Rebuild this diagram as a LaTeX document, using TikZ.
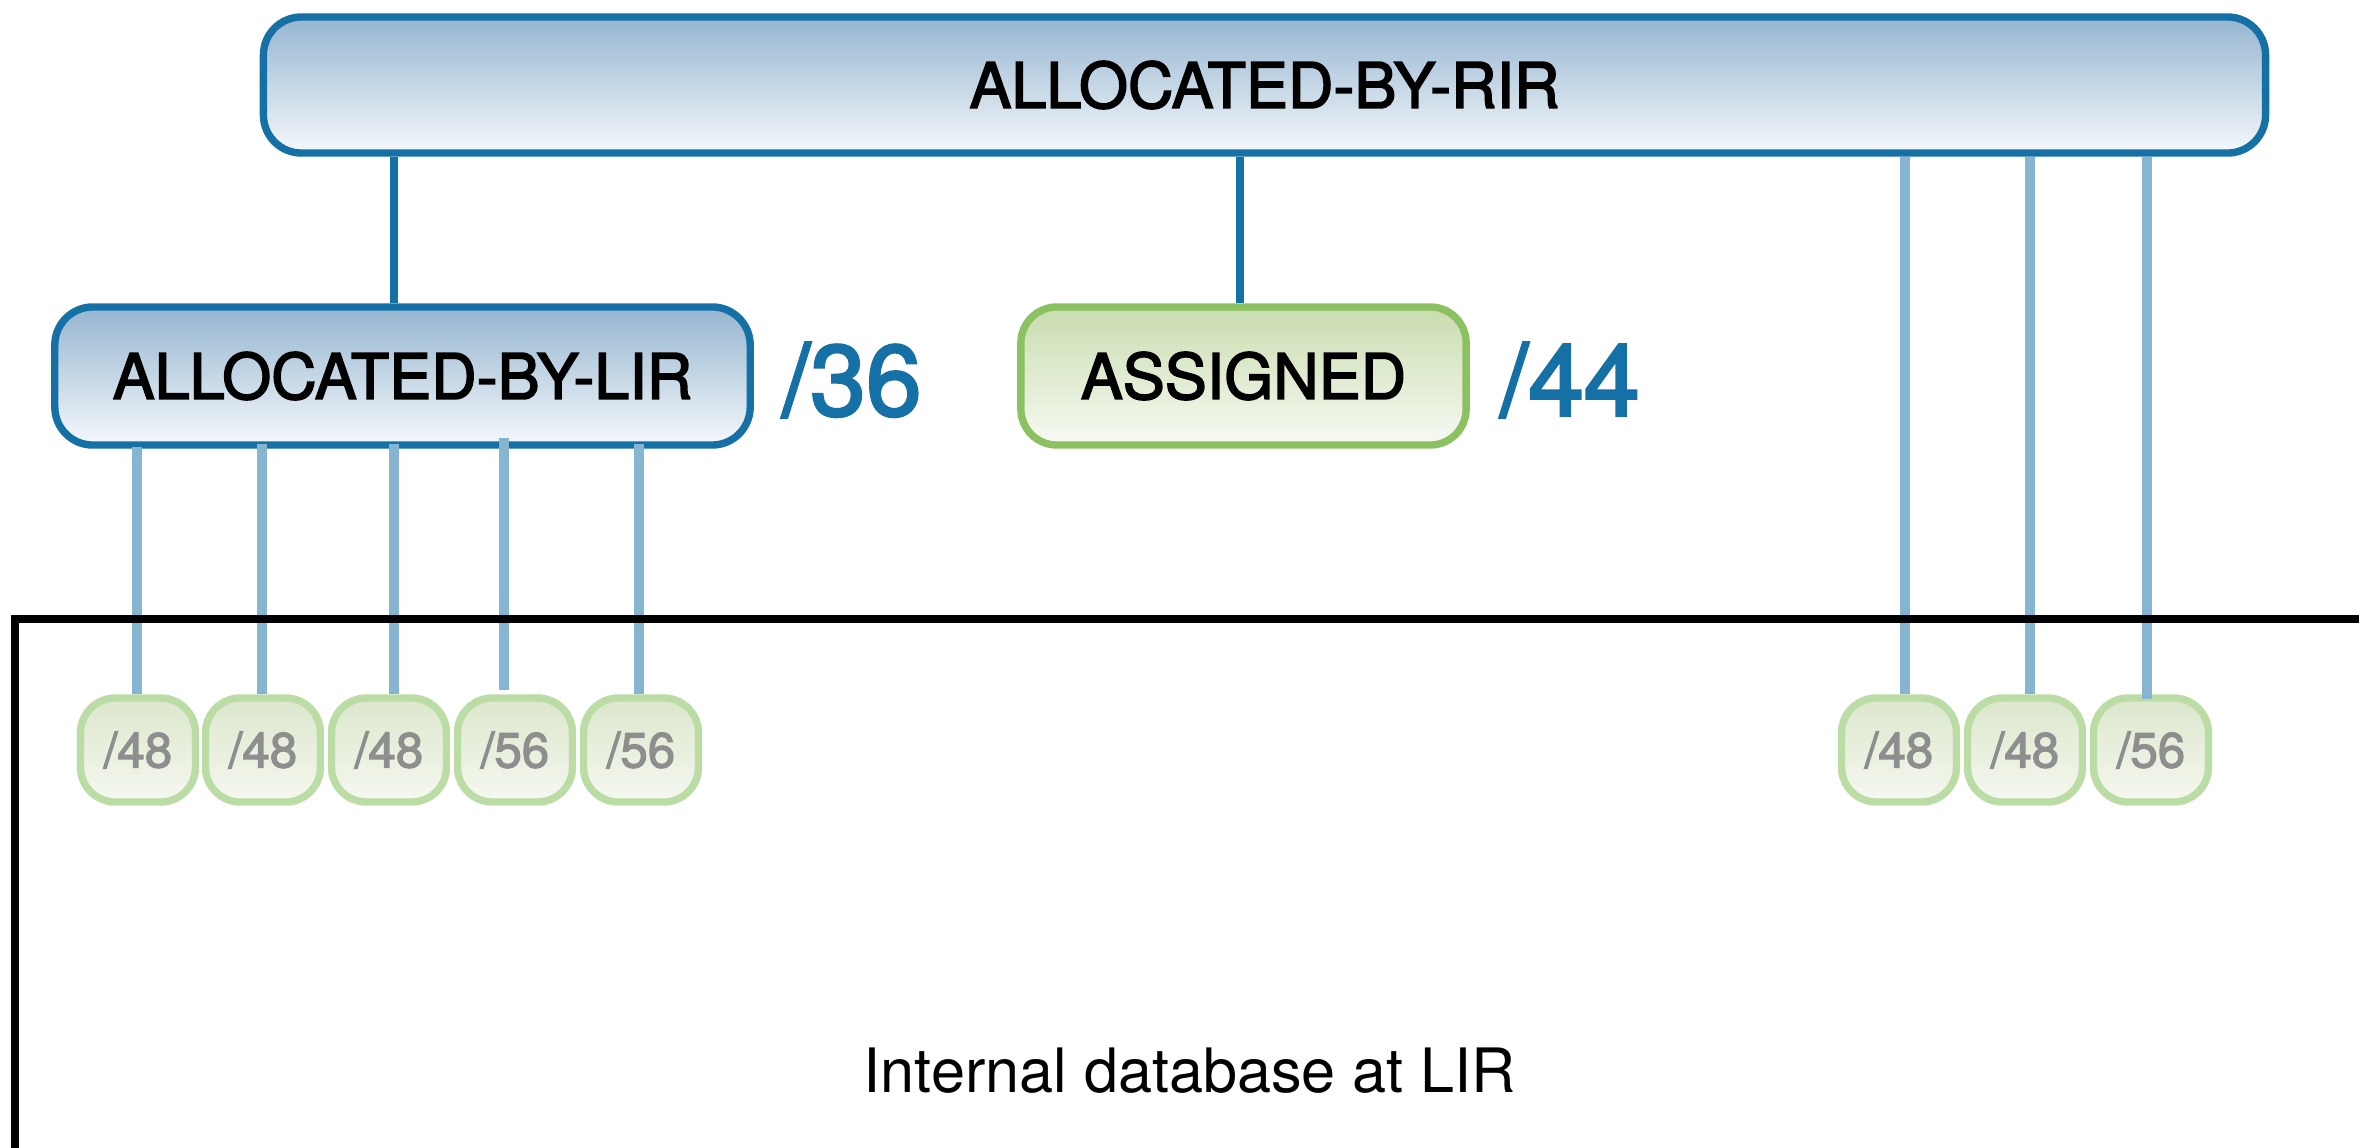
\documentclass[tikz,border=0pt]{standalone}
\usepackage{fontspec}
\setmainfont{TeX Gyre Heros}
\newfontfamily\medfont[FakeBold=2.5]{TeX Gyre Heros}
\definecolor{dblue}{HTML}{1570A6}
\definecolor{lblue}{HTML}{86B5D2}
\definecolor{btop}{HTML}{95B5D0}
\definecolor{bbot}{HTML}{F5F8FB}
\definecolor{gborder}{HTML}{8BC160}
\definecolor{gtop}{HTML}{C9DCAF}
\definecolor{gbot}{HTML}{F7FAF3}
\definecolor{sborder}{HTML}{BBDDA5}
\definecolor{stop}{HTML}{DCE7CC}
\definecolor{sbot}{HTML}{F5F8F0}
\definecolor{stext}{HTML}{8E8E8E}
\tikzset{
  bluebox/.style={draw=dblue, line width=2.1pt, rounded corners=0.38cm, top color=btop, bottom color=bbot, inner sep=0pt, font=\medfont\fontsize{17.9}{20}\selectfont},
  greenbox/.style={draw=gborder, line width=2.1pt, rounded corners=0.36cm, top color=gtop, bottom color=gbot, inner sep=0pt, font=\medfont\fontsize{17.9}{20}\selectfont},
  smallbox/.style={draw=sborder, line width=2.1pt, rounded corners=0.35cm, top color=stop, bottom color=sbot, inner sep=0pt, minimum width=1.15cm, minimum height=1.04cm, text=stext, font=\medfont\fontsize{14}{16}\selectfont},
  sizelabel/.style={text=dblue, inner sep=0pt, font=\medfont\fontsize{28.5}{30}\selectfont},
  darkline/.style={draw=dblue, line width=2.5pt},
  lightline/.style={draw=lblue, line width=2.8pt},
  dbline/.style={draw=black, line width=2pt}
}
\begin{document}
\begin{tikzpicture}[x=0.01cm, y=-0.01cm]
\useasboundingbox (0,0) rectangle (2359,1148);
% main boxes
\node[bluebox, minimum width=20.01cm, minimum height=1.36cm] (rir) at (1264.5,85) {ALLOCATED-BY-RIR};
\node[bluebox, minimum width=6.95cm, minimum height=1.38cm] (lir) at (402.5,376) {ALLOCATED-BY-LIR};
\node[greenbox, minimum width=4.45cm, minimum height=1.38cm] (asg) at (1243.5,376) {ASSIGNED};
\node[sizelabel] (l36) at (852,380) {/36};
\node[sizelabel] (l44) at (1570,380) {/44};
% small boxes
\node[smallbox] (s1) at (138,750) {/48};
\node[smallbox] (s2) at (263,750) {/48};
\node[smallbox] (s3) at (389,750) {/48};
\node[smallbox] (s4) at (515,750) {/56};
\node[smallbox] (s5) at (641,750) {/56};
\node[smallbox] (s6) at (1899,750) {/48};
\node[smallbox] (s7) at (2025,750) {/48};
\node[smallbox] (s8) at (2151,750) {/56};
% dark connectors
\draw[darkline] ([xshift=-0.085cm]lir.north) -- ([xshift=-0.085cm]lir.north |- rir.south);
\draw[darkline] ([xshift=-0.035cm]asg.north) -- ([xshift=-0.035cm]asg.north |- rir.south);
% light connectors from LIR
\draw[lightline] ([xshift=-0.01cm]s1.north) -- ([xshift=-0.01cm,yshift=0.02cm]s1.north |- lir.south);
\draw[lightline] ([xshift=-0.01cm]s2.north) -- ([xshift=-0.01cm,yshift=0.05cm]s2.north |- lir.south);
\draw[lightline] ([xshift=0.05cm]s3.north) -- ([xshift=0.05cm,yshift=0.05cm]s3.north |- lir.south);
\draw[lightline] ([xshift=-0.11cm,yshift=0.04cm]s4.north) -- ([xshift=-0.11cm,yshift=0.11cm]s4.north |- lir.south);
\draw[lightline] ([xshift=-0.02cm]s5.north) -- ([xshift=-0.02cm,yshift=0.05cm]s5.north |- lir.south);
% light connectors from RIR
\draw[lightline] ([xshift=0.06cm]s6.north) -- ([xshift=0.06cm]s6.north |- rir.south);
\draw[lightline] ([xshift=0.05cm]s7.north) -- ([xshift=0.05cm]s7.north |- rir.south);
\draw[lightline] ([xshift=-0.04cm,yshift=-0.05cm]s8.north) -- ([xshift=-0.04cm]s8.north |- rir.south);
% internal database area
\begin{scope}
\clip (0,0) rectangle (2359,1148);
\draw[dbline] (15,1200) -- (15,619) -- (2420,619);
\end{scope}
\node[inner sep=0pt, font=\fontsize{17.4}{20}\selectfont] (db) at (1190,1071) {Internal database at LIR};
\end{tikzpicture}
\end{document}
